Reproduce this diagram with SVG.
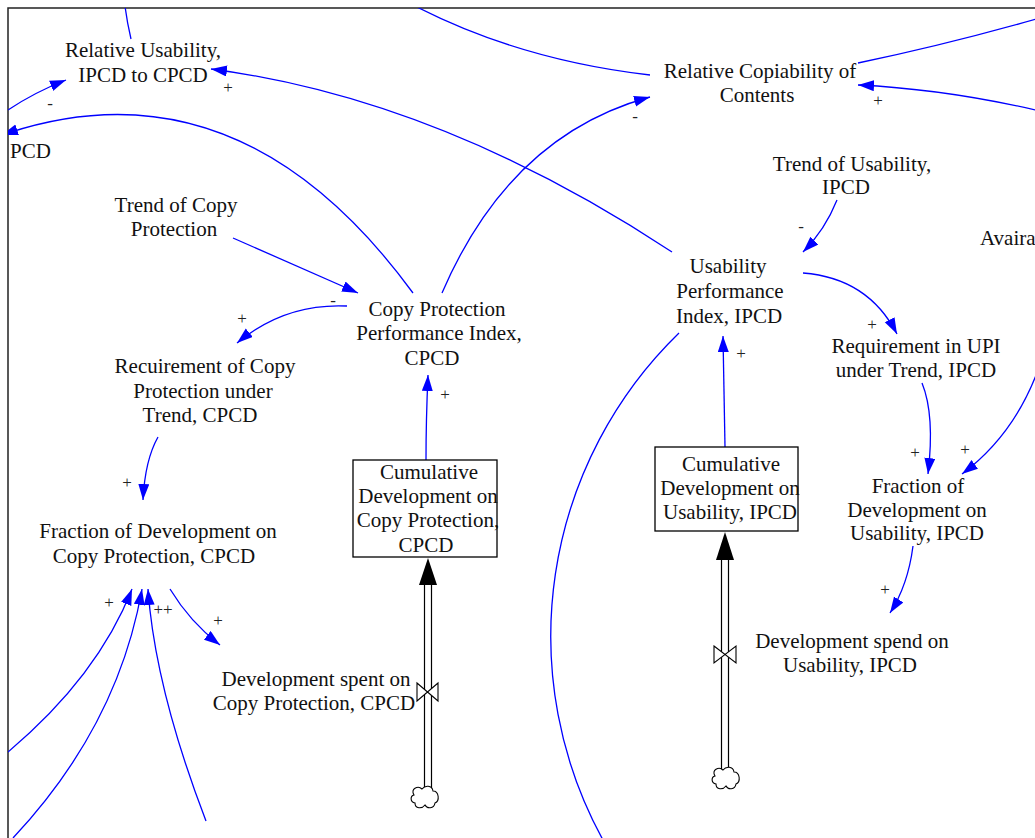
<svg xmlns="http://www.w3.org/2000/svg" width="1035" height="838" viewBox="0 0 1035 838">
<style>
  .lbl { font-family: "Liberation Serif", "Times New Roman", serif; font-size: 21px; fill: #111; text-anchor: middle; }
  .pol { font-family: "Liberation Serif", "Times New Roman", serif; font-size: 17px; fill: #222; text-anchor: middle; }
  .lnk { fill: none; stroke: #0000FF; stroke-width: 1.3; }
  .arr { marker-end: url(#ah); }
  .pipe { fill: none; stroke: #000; stroke-width: 1.2; }
  .stock { fill: #fff; stroke: #000; stroke-width: 1.3; }
  .valve { fill: #fff; stroke: #000; stroke-width: 1.1; stroke-linejoin: miter; }
  .cloud { fill: #fff; stroke: #000; stroke-width: 1.1; }
</style>
<defs>
  <marker id="ah" markerUnits="userSpaceOnUse" markerWidth="17" markerHeight="12" refX="16" refY="5.5" orient="auto">
    <path d="M0,0 L16,5.5 L0,11 Z" fill="#0000FF"/>
  </marker>
  <clipPath id="frameClip"><rect x="8" y="8" width="1027" height="830"/></clipPath>
  <path id="cloudShape" d="M-11,-2 C-15,-8 -7,-12 -3,-8 C0,-12 7,-12 8,-6 C14,-6 15,4 10,6 C9,12 2,12 0,8 C-3,12 -10,12 -10,6 C-15,5 -15,-1 -11,-2 Z"/>
</defs>

<rect x="0" y="0" width="1035" height="838" fill="#fff"/>
<path d="M8,838 L8,8 L1035,8" fill="none" stroke="#222" stroke-width="1.5"/>

<g id="connectors" clip-path="url(#frameClip)">
  <path class="lnk" d="M131,39 Q127,22 125,6"/>
  <path class="lnk arr" d="M8,110 Q35,92 66,80"/>
  <path class="lnk arr" d="M672,252 Q440,99 211,69"/>
  <path class="lnk arr" d="M413,293 Q238,54 2,135"/>
  <path class="lnk" d="M650,75 Q520,60 415,6"/>
  <path class="lnk" d="M858,63 Q945,45 1040,18"/>
  <path class="lnk arr" d="M1040,111 Q945,89 858,85"/>
  <path class="lnk arr" d="M442,293 Q510,135 650,97"/>
  <path class="lnk arr" d="M233,238 L358,293"/>
  <path class="lnk arr" d="M347,306 Q285,303 237,343"/>
  <path class="lnk arr" d="M426,460 Q426,420 428,375"/>
  <path class="lnk arr" d="M158,437 Q145,460 143,500"/>
  <path class="lnk arr" d="M8,752 Q98,676 132,589"/>
  <path class="lnk arr" d="M13,838 Q118,726 142,589"/>
  <path class="lnk arr" d="M206,821 Q155,688 148,589"/>
  <path class="lnk arr" d="M170,589 Q190,622 220,645"/>
  <path class="lnk arr" d="M837,200 Q825,230 803,252"/>
  <path class="lnk arr" d="M803,273 Q868,278 897,334"/>
  <path class="lnk arr" d="M725,447 L723,336"/>
  <path class="lnk" d="M679,333 A423,423 0 0 0 603,840"/>
  <path class="lnk arr" d="M922,383 Q935,415 928,474"/>
  <path class="lnk arr" d="M1038,370 Q1014,435 962,474"/>
  <path class="lnk arr" d="M913,546 Q908,585 890,613"/>
</g>

<g id="polarities">
  <text class="pol" x="50" y="109">-</text>
  <text class="pol" x="228" y="93">+</text>
  <text class="pol" x="635" y="122">-</text>
  <text class="pol" x="878" y="106">+</text>
  <text class="pol" x="333" y="306">-</text>
  <text class="pol" x="242" y="324">+</text>
  <text class="pol" x="445" y="400">+</text>
  <text class="pol" x="801" y="232">-</text>
  <text class="pol" x="872" y="330">+</text>
  <text class="pol" x="741" y="359">+</text>
  <text class="pol" x="127" y="488">+</text>
  <text class="pol" x="109" y="608">+</text>
  <text class="pol" x="163" y="615">++</text>
  <text class="pol" x="218" y="626">+</text>
  <text class="pol" x="915" y="458">+</text>
  <text class="pol" x="965" y="455">+</text>
  <text class="pol" x="885" y="595">+</text>
</g>

<g id="relative-usability">
  <text class="lbl" x="143" y="57">Relative Usability,<tspan x="143" y="82">IPCD to CPCD</tspan></text>
</g>
<g id="pcd-partial">
  <text class="lbl" x="10" y="158" style="text-anchor:start">PCD</text>
</g>
<g id="relative-copiability">
  <text class="lbl" x="760" y="78">Relative Copiability of<tspan x="757" y="102">Contents</tspan></text>
</g>
<g id="trend-copy-protection">
  <text class="lbl" x="176" y="212">Trend of Copy<tspan x="174" y="236">Protection</tspan></text>
</g>
<g id="cp-performance-index">
  <text class="lbl" x="437" y="316">Copy Protection<tspan x="439" y="340">Performance Index,</tspan><tspan x="432" y="365">CPCD</tspan></text>
</g>
<g id="requirement-cp">
  <text class="lbl" x="205" y="373">Recuirement of Copy<tspan x="203" y="398">Protection under</tspan><tspan x="200" y="422">Trend, CPCD</tspan></text>
</g>
<g id="trend-usability">
  <text class="lbl" x="852" y="171">Trend of Usability,<tspan x="846" y="194">IPCD</tspan></text>
</g>
<g id="avairability-partial">
  <text class="lbl" x="980" y="245" style="text-anchor:start">Avaira</text>
</g>
<g id="usability-performance-index">
  <text class="lbl" x="728" y="273">Usability<tspan x="730" y="298">Performance</tspan><tspan x="729" y="323">Index, IPCD</tspan></text>
</g>
<g id="requirement-upi">
  <text class="lbl" x="916" y="353">Requirement in UPI<tspan x="916" y="377">under Trend, IPCD</tspan></text>
</g>
<g id="fraction-cp">
  <text class="lbl" x="158" y="538">Fraction of Development on<tspan x="154" y="563">Copy Protection, CPCD</tspan></text>
</g>
<g id="fraction-usability">
  <text class="lbl" x="918" y="493">Fraction of<tspan x="917" y="517">Development on</tspan><tspan x="917" y="540">Usability, IPCD</tspan></text>
</g>

<g id="stock-cp">
  <rect class="stock" x="353" y="460" width="144" height="97"/>
  <text class="lbl" x="429" y="479">Cumulative<tspan x="428" y="503">Development on</tspan><tspan x="428" y="527">Copy Protection,</tspan><tspan x="426" y="552">CPCD</tspan></text>
</g>
<g id="stock-usability">
  <rect class="stock" x="655" y="447" width="143" height="84"/>
  <text class="lbl" x="731" y="471">Cumulative<tspan x="730" y="495">Development on</tspan><tspan x="730" y="519">Usability, IPCD</tspan></text>
</g>

<g id="flow-dev-cp">
  <path class="pipe" d="M424.5,585 L424.5,789 M431.5,585 L431.5,789"/>
  <path d="M428,558 L437,585 L419,585 Z" fill="#000"/>
  <path class="valve" d="M417,683 L438,701 L438,683 L417,701 Z"/>
  <use href="#cloudShape" class="cloud" x="425" y="797"/>
  <text class="lbl" x="316" y="686">Development spent on<tspan x="314" y="710">Copy Protection, CPCD</tspan></text>
</g>
<g id="flow-dev-usability">
  <path class="pipe" d="M721.5,560 L721.5,770 M728.5,560 L728.5,770"/>
  <path d="M725,532 L734,560 L716,560 Z" fill="#000"/>
  <path class="valve" d="M714,646 L736,663 L736,646 L714,663 Z"/>
  <use href="#cloudShape" class="cloud" x="726" y="778"/>
  <text class="lbl" x="852" y="648">Development spend on<tspan x="850" y="672">Usability, IPCD</tspan></text>
</g>
</svg>
